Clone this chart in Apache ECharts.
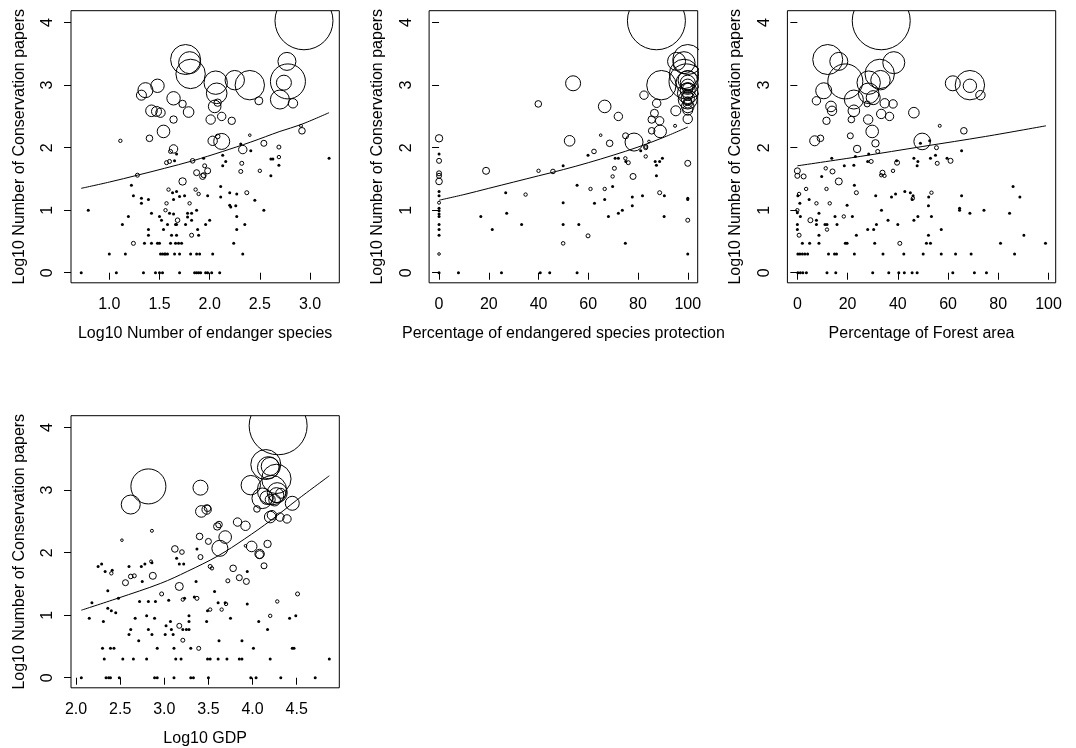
<!DOCTYPE html>
<html>
<head>
<meta charset="utf-8">
<script src="https://cdn.jsdelivr.net/npm/echarts@6/dist/echarts.min.js"></script>
<style>
html,body{margin:0;padding:0;background:#fff;}
#chart{width:1076px;height:748px;}
</style>
</head>
<body>
<div id="chart"></div>
<script>
// ---- DATA: [x, log10 papers, bubble weight] ----
const speciesPts = [
[2.94,4.03,29],[1.76,3.41,15],[1.80,3.36,11],[1.81,3.18,14.7],[2.77,3.38,9],[2.78,3.06,17.5],[2.74,3.04,7.5],[2.70,2.77,9.5],[2.83,2.71,4.7],[2.06,3.04,11.7],[2.07,2.87,10.3],[2.25,3.08,9.7],[2.40,3.00,14.7],[2.49,2.75,4],[2.05,2.66,6.3],[2.08,2.72,3.7],[1.36,2.92,7.5],[1.32,2.84,5],[1.48,2.99,6.7],[1.64,2.79,6.7],[1.73,2.70,3.7],[1.42,2.59,5.8],[1.47,2.58,5],[1.51,2.56,4.7],[1.79,2.57,5.3],[1.64,2.45,3.7],[2.01,2.45,4.7],[2.12,2.50,4.2],[2.22,2.43,3.7],[1.54,2.26,6.3],[1.40,2.15,3.3],[1.11,2.11,1.7],[2.12,2.10,8],[2.03,2.11,4.7],[2.08,2.18,2.3],[1.64,1.98,4.2],[2.40,2.20,1.3],[2.54,2.07,3],[2.69,2.01,2],[2.92,2.27,3.3],[2.91,2.35,1.5],[2.33,1.97,4.2],[2.31,2.06,1],
[1.61,1.94,2],[1.67,1.90,1],[2.41,1.95,1],[2.13,1.88,1],[1.57,1.76,2],[1.60,1.78,2],[1.65,1.79,1],[1.83,1.79,2.3],[1.94,1.83,1],[2.16,1.78,1],[2.13,1.71,1],[1.95,1.71,2],[1.98,1.63,3],[1.87,1.60,3],[1.93,1.54,3],[1.94,1.56,2.5],[2.32,1.75,2],[2.31,1.62,2],[2.50,1.63,1.7],[2.61,1.82,1],[2.63,1.82,1],[2.69,1.85,1.7],[2.69,1.72,1],[2.61,1.55,1],[3.19,1.83,1],[1.73,1.46,3.7],[1.28,1.56,2],[1.22,1.40,1],[1.24,1.23,1],[1.32,1.19,1],[1.32,1.11,1],[1.39,1.17,1],[1.59,1.33,1.7],[1.63,1.28,1],[1.67,1.30,1],[1.70,1.22,1],[1.75,1.23,1],[1.64,1.17,1],[1.57,1.11,1.7],[1.86,1.33,1.7],[1.89,1.26,1.7],[1.80,1.11,1.7],[1.98,1.23,1],[2.11,1.38,1],[2.11,1.21,1],[2.20,1.28,1],[2.27,1.26,1],[2.37,1.28,2],[2.45,1.16,1],[2.20,1.08,1],[2.21,1.05,1],[2.26,1.07,1],[2.54,1.00,1],[0.79,1.00,1],[1.19,0.90,1],[1.13,0.77,1],[1.42,0.95,1],[1.50,0.90,1],[1.52,0.84,1],[1.56,1.00,1.7],[1.60,0.95,1],[1.64,0.94,1],[1.68,0.84,2.3],[1.58,0.77,1],[1.66,0.77,1],[1.67,0.77,1],[1.78,0.95,1],[1.82,0.95,1],[1.87,1.00,1],[1.78,0.89,1],[1.82,0.84,1],[1.76,0.77,1],[2.00,0.84,1],[1.96,0.77,1],[2.27,0.90,1],[2.35,0.77,1],[2.27,0.69,1],[1.39,0.69,1],[1.54,0.69,1],[1.39,0.60,1],[1.62,0.60,1],[1.67,0.60,1],[1.82,0.60,2],[1.88,0.69,1],[1.89,0.60,1],[1.24,0.47,2],[1.35,0.47,1],[1.42,0.47,1],[1.48,0.47,1],[1.50,0.47,1],[1.61,0.47,1],[1.66,0.47,1],[1.69,0.47,1],[1.72,0.47,1],[2.24,0.47,1],
[1.00,0.30,1],[1.16,0.30,1],[1.51,0.30,1],[1.53,0.30,1],[1.55,0.30,1],[1.56,0.30,1],[1.58,0.30,1],[1.65,0.30,1],[1.70,0.30,1],[1.81,0.30,1],[1.87,0.30,1],[1.90,0.30,1],[2.03,0.30,1],[2.33,0.30,1],
[0.72,0,1],[1.07,0,1],[1.34,0,1],[1.46,0,1],[1.50,0,1],[1.53,0,1],[1.70,0,1],[1.85,0,1],[1.87,0,1],[1.89,0,1],[1.91,0,1],[1.96,0,1],[1.98,0,1],[2.02,0,1],[2.10,0,1]
];
const protectionPts = [
[87.4,4.03,29],[100,3.41,15],[98.5,3.36,11],[98.5,3.18,14.7],[95.5,3.38,9],[99.5,3.06,17.5],[100,3.04,7.5],[100,2.77,9.5],[100,2.71,4.7],[100,3.04,11.7],[100,2.87,10.3],[100,3.08,9.7],[89.4,3.00,14.7],[100,2.75,4],[100,2.66,6.3],[100,2.92,7.5],[100,2.84,5],[100,2.99,6.7],[100,2.79,6.7],[100,2.95,5],[100,2.60,5],[95.2,2.59,5],[100,2.46,4.7],[82.4,2.84,4.2],[87.5,2.71,4.2],[86.6,2.55,4],[85.5,2.45,3.7],[88.7,2.43,4.2],[88.9,2.26,6.3],[85.5,2.27,3.3],[94.9,2.35,1.5],[53.9,3.03,7.5],[39.9,2.70,3.3],[66.6,2.66,6.3],[72.1,2.50,4.2],[0,2.15,3.7],[52.5,2.11,5.3],[78.4,2.09,9],[75.0,2.19,3],[68.6,2.07,3.3],[65,2.20,1.3],[83.1,2.02,2],[84.4,2.10,1.3],
[0,1.90,1],[0,1.79,2.5],[0,1.59,2.5],[0,1.55,2.5],[0,1.46,3.3],[0,1.30,1],[0,1.23,1],[0,1.12,1.5],[0,1.03,1],[0,0.99,1],[0,0.94,1],[0,0.90,1],[0,0.77,1],[0,0.69,1],[0,0.60,1],[0,0.30,1.3],[0,0,1],[18.9,1.63,3.5],[7.8,0,1],[16.8,0.90,1],[21.4,0.69,1],[26.8,1.28,1],[27.2,0.95,1],[25.1,0,1],[33.2,0.77,1],[34.8,1.25,1.7],[40,1.63,1.7],[40.7,0,1],[44.5,0,1],[45.8,1.62,2.3],[49.9,1.71,1],[49.9,1.12,1],[49.9,0.77,1.2],[49.9,0.47,1.8],[55.5,0,1],[55.5,1.40,1],[56.2,0.77,1],[59.9,0.59,2],[59.9,1.88,1],[62.3,1.94,2.3],[60.9,1.34,1.7],[62.5,1.11,1],[66.6,1.34,1.7],[66.6,1.17,1],[68.1,0.90,1],[69.8,1.54,1.7],[69.8,1.38,1],[70.5,1.67,2],[70.8,1.83,1],[72.1,1.83,1],[72.1,0.95,1],[73.7,1.00,1],[74.9,1.83,1.7],[76.1,1.76,2],[75.1,1.78,1],[74.9,0.47,1],[78.0,1.54,3],[77.7,1.21,1],[77.7,1.07,1],[81.8,1.23,1],[81.1,1.95,1],[83.1,2.00,2],[83.1,1.86,1.7],[86.9,1.78,1],[88.7,1.78,1],[89.8,1.83,1],[87.4,1.72,1],[87.4,1.55,1],[88.7,1.28,2],[90.6,1.23,1],[90.5,0.90,1],[100,1.75,3],[100,1.19,1],[100,1.17,1],[100,0.84,2],[100,0.30,1]
];
const forestPts = [
[33.4,4.03,29],[12.1,3.41,15],[16.5,3.38,9],[19.1,3.06,17.5],[32.8,3.18,14.7],[38.4,3.36,11],[33.1,3.08,9.7],[28.4,3.04,11.7],[28.4,2.87,10.3],[68.7,3.00,14.7],[68.7,2.99,6.7],[61.9,3.03,7.5],[72.9,2.84,4.7],[10.5,2.91,8],[22.5,2.77,9.5],[30.2,2.80,7],[7.6,2.75,4.2],[13.4,2.66,5.3],[13.8,2.59,4.7],[22.5,2.59,5.8],[27.8,2.70,3],[34.8,2.71,4.7],[38.1,2.70,4.2],[46.4,2.56,5.3],[33.4,2.54,4.7],[36.7,2.50,4.2],[11.6,2.43,3.7],[21.5,2.45,3.3],[28.2,2.45,4.7],[29.8,2.26,6.3],[21.1,2.19,3],[6.9,2.11,5],[9.2,2.15,3.3],[31.1,2.07,3.7],[49.7,2.10,8.3],[56.7,2.35,1.5],[66.3,2.27,3.3],[23.8,1.98,3.7],[55.4,2.00,2],[52.7,2.11,1],[49,2.07,1],
[65.4,1.95,1],[13.7,1.83,1],[23.1,1.86,1],[28.4,1.90,1],[32.0,1.94,2],[29.4,1.78,2],[28.0,1.78,1],[39.7,1.76,2.5],[39.5,1.79,1],[46.4,1.83,1],[47.7,1.71,1],[48.0,1.78,1],[53.0,1.83,1],[55.0,1.88,1],[55.7,1.75,2],[59.6,1.83,1],[61.0,1.79,2.5],[0,1.63,3],[0,1.55,2.5],[2.5,1.54,2.5],[9.7,1.54,1],[11.3,1.67,1.7],[14.0,1.62,2.5],[18.7,1.71,1],[22.5,1.72,1],[16.5,1.46,3.5],[22.7,1.40,1],[23.5,1.28,2],[33.9,1.60,2.5],[33.4,1.56,1.7],[34.7,1.55,1.7],[38.1,1.63,1.7],[3.5,1.34,1.7],[11.6,1.34,1.7],[0.7,1.26,1.7],[0.2,1.23,1],[1.0,1.11,1],[4.7,1.17,1],[7.6,1.11,1.7],[12.9,1.11,1.7],[19.8,1.08,1],[31.2,1.23,1],[37.5,1.21,1],[39.1,1.26,1],[42.8,1.30,1],[45.0,1.28,1],[46.1,1.23,1],[45.7,1.17,1],[46,1.19,1.7],[53.4,1.28,1.7],[52.3,1.21,1],[52.2,1.07,1],[65.4,1.23,1],[64.6,1.03,1],[64.6,1.00,1],[68.7,0.95,1],[74.3,1.00,1],[84.5,0.95,1],[85.9,1.38,1],[88.6,1.21,1],[0,1.00,1.7],[0,0.96,1],[1.2,0.90,1],[5.2,0.84,2.5],[7.6,0.84,1],[8.6,0.95,1],[0,0.77,1],[0,0.69,1],[7.6,0.77,1],[11.0,0.77,1],[11.8,0.77,1],[11.8,0.69,1.7],[15.0,0.90,1],[15.8,0.77,1],[18.5,0.90,1.7],[21.9,0.90,1],[33.5,1.00,1],[28.0,0.69,1],[30.4,0.69,1],[31.5,0.77,1],[36.1,0.84,1],[40.0,0.77,1],[46.4,0.84,1],[48.0,0.90,1],[53.4,0.90,1],[57.3,0.69,1],[0.7,0.60,2],[8.6,0.60,1],[23.5,0.60,1],[52.2,0.60,1],[2.0,0.47,1],[4.9,0.47,1],[8.6,0.47,1],[19.1,0.47,1],[19.8,0.47,1],[30.8,0.47,1],[40.8,0.47,2],[51.4,0.47,1],[53.0,0.47,1],[80.9,0.47,1],[98.8,0.47,1],[90.2,0.60,1],
[0.2,0.30,1],[1,0.30,1],[2,0.30,1],[3,0.30,1],[4.1,0.30,1],[12.4,0.30,1],[14.8,0.30,1],[15.6,0.30,1],[22.7,0.30,1],[34.1,0.30,1],[42.4,0.30,1],[50.1,0.30,1],[57.3,0.30,1],[63.0,0.30,1],[69.2,0.30,1],[86.5,0.30,1],
[0.2,0,1],[1.2,0,1],[2.2,0,1],[3.6,0,1],[11.8,0,1],[15.3,0,1],[30.0,0,1],[36.4,0,1],[40.4,0,1],[42.6,0,1],[45.7,0,1],[47.7,0,1],[61.9,0,1],[70.5,0,1],[75.3,0,1]
];
const gdpPts = [
[4.29,4.03,29],[4.15,3.41,15],[4.18,3.36,11],[4.27,3.18,14.7],[4.20,3.38,9],[2.82,3.06,17.5],[3.41,3.04,7.5],[2.62,2.77,9.5],[3.98,3.08,9.7],[4.22,3.00,14.7],[4.28,2.96,10],[4.11,2.87,10.3],[4.45,2.79,7],[4.39,2.54,4.2],[4.20,2.57,5.8],[4.31,2.57,4.2],[4.05,2.70,3.3],[3.42,2.66,5.8],[3.48,2.69,4.7],[3.49,2.71,3.3],[3.60,2.42,3.7],[3.62,2.45,3.3],[3.83,2.49,4.2],[3.92,2.43,4.7],[3.69,2.25,6.3],[3.63,2.07,8],[3.40,2.26,3.3],[3.50,2.18,3],[3.99,2.10,5.3],[4.17,2.14,3.7],[4.08,1.98,4.7],[4.08,1.97,4],[3.12,2.06,3.3],[3.20,2.01,2.3],[2.86,2.35,1.5],[2.52,2.20,1.3],[3.37,2.06,1],[3.41,1.93,2.5],[3.92,2.11,1.3],[4.25,2.84,5.8],[4.32,2.95,5],[4.27,2.92,7.5],[4.20,2.85,5],[4.22,2.60,4.7],[4.16,2.88,6.7],
[4.13,1.79,3],[2.25,1.78,1],[2.29,1.82,1],[2.33,1.70,1],[2.40,1.67,1.7],[2.41,1.72,1],[2.36,1.39,1],[2.18,1.20,1],[2.15,0.95,1],[2.36,1.11,1],[2.40,1.07,1],[2.45,1.04,1],[2.31,0.90,1],[2.48,1.27,1],[2.56,1.52,3],[2.62,1.62,2.3],[2.66,1.63,2],[2.60,1.78,1],[2.74,1.78,1],[2.78,1.82,1],[2.85,1.86,1.5],[2.86,1.84,1],[2.75,1.54,1],[2.87,1.63,3.5],[2.72,1.22,1],[2.82,1.22,1],[2.90,1.22,1],[2.97,1.34,2],[3.05,1.24,1],[2.67,0.95,1],[2.80,0.99,1],[2.89,0.95,1],[2.62,0.77,1],[2.60,0.69,1],[2.82,0.77,1],[2.86,0.69,1],[2.71,0.59,1],[3.02,0.83,1],[3.07,0.90,1],[3.08,0.77,1],[3.01,0.69,1],[3.10,0.69,1],[3.17,0.83,2.5],[3.21,0.77,1],[3.25,0.77,1],[3.28,0.77,1],[3.28,0.99,1],[3.28,0.90,1],[3.21,0.60,2],[3.14,1.91,1],[3.17,1.82,1],[3.22,1.82,1],[3.17,1.46,4],[3.21,1.25,1.7],[3.23,1.27,1],[3.36,1.54,1],[3.34,1.29,1],[3.37,1.27,2],[3.48,0.90,1],[3.49,1.07,1],[3.52,1.09,1.7],[3.52,1.78,2],[3.54,1.75,1.7],[3.57,1.38,1],[3.61,1.20,1],[3.69,1.20,1],[3.70,1.18,1.7],[3.65,1.09,1.7],[3.62,0.59,1],[3.72,1.55,2],[3.75,0.95,1],[3.78,1.75,3.3],[3.85,1.60,3],[3.93,1.54,3],[3.94,1.70,1],[3.94,1.18,1],[3.88,0.59,1],[4.07,0.90,1],[4.17,0.77,1],[4.20,0.99,1.7],[4.28,1.22,1.7],[4.42,0.95,1],[4.49,0.99,1],[4.51,1.34,2],
[2.30,0.47,1],[2.39,0.47,1],[2.43,0.47,1],[2.92,0.47,1],[3.11,0.47,1],[3.30,0.47,1],[3.39,0.47,2],[4.01,0.47,1],[4.45,0.47,1],[4.47,0.47,1],
[2.32,0.30,1],[2.53,0.30,1],[2.65,0.30,1],[2.80,0.30,1],[3.13,0.30,1],[3.19,0.30,1],[3.49,0.30,1],[3.52,0.30,1],[3.61,0.30,1],[3.71,0.30,1],[3.85,0.30,1],[3.88,0.30,1],[4.20,0.30,1],[4.87,0.30,1],
[2.06,0,1],[2.34,0,1],[2.37,0,1],[2.39,0,1],[2.49,0,1],[2.89,0,1],[2.92,0,1],[3.11,0,1],[3.30,0,1],[3.33,0,1],[3.50,0,1],[3.98,0,1],[4.04,0,1],[4.32,0,1],[4.71,0,1]
];

// fitted curves
const speciesFit = [[0.72,1.35],[1.0,1.45],[1.28,1.56],[1.55,1.67],[1.83,1.79],[2.13,1.94],[2.41,2.09],[2.7,2.26],[2.91,2.37],[3.19,2.56]];
const protectionFit = [[0,1.16],[10,1.25],[20,1.35],[30,1.45],[40,1.55],[50,1.65],[60,1.76],[70,1.88],[80,2.01],[90,2.16],[100,2.33]];
const forestFit = [[0,1.71],[25,1.86],[50,2.02],[75,2.18],[99,2.35]];
const gdpFit = [[2.06,1.08],[2.47,1.27],[2.96,1.51],[3.26,1.70],[3.61,1.95],[3.91,2.22],[4.21,2.52],[4.5,2.84],[4.87,3.23]];

// axis tick labels
const speciesTicks = [1.0,1.5,2.0,2.5,3.0];
const percentTicks = [0,20,40,60,80,100];
const gdpTicks = [2.0,2.5,3.0,3.5,4.0,4.5];
const paperTicks = [0,1,2,3,4];

const xTitles = ['Log10 Number of endanger species','Percentage of endangered species protection','Percentage of Forest area','Log10 GDP'];
const yTitle = 'Log10 Number of Conservation papers';

// ---- LAYOUT ----
const FONT = "'Liberation Sans', Arial, Helvetica, sans-serif";
const grids = [
  {left:71, top:10.7, width:268.3, height:272.1},
  {left:429.1, top:10.7, width:268.6, height:272.1},
  {left:787.4, top:10.7, width:268.3, height:272.1},
  {left:71, top:415.7, width:268.3, height:272.1}
];
const xRanges = [[0.618,3.292],[-4,104],[-3.96,102.87],[1.943,4.983]];
const xTickSets = [speciesTicks, percentTicks, percentTicks, gdpTicks];
const xDec = [1,0,0,1];
const pts = [speciesPts, protectionPts, forestPts, gdpPts];
const fits = [speciesFit, protectionFit, forestFit, gdpFit];

const option = {
  animation:false,
  backgroundColor:'#fff',
  textStyle:{fontFamily:FONT},
  grid: grids.map(g => Object.assign({show:true, borderColor:'#000', borderWidth:1, backgroundColor:'transparent', containLabel:false}, g)),
  xAxis: grids.map((g,i) => ({
    type:'value', gridIndex:i, min:xRanges[i][0], max:xRanges[i][1],
    name:xTitles[i], nameLocation:'middle', nameGap:43,
    nameTextStyle:{fontSize:16, color:'#000', fontFamily:FONT},
    axisLine:{show:false},
    axisTick:{show:true, length:7, inside:false, customValues:xTickSets[i], lineStyle:{color:'#000', width:1}},
    axisLabel:{show:true, customValues:xTickSets[i], margin:14, fontSize:16, color:'#000', fontFamily:FONT,
      formatter: v => Number(v).toFixed(xDec[i])},
    splitLine:{show:false}
  })),
  yAxis: grids.map((g,i) => ({
    type:'value', gridIndex:i, min:-0.161, max:4.191,
    name:yTitle, nameLocation:'middle', nameGap:43.7,
    nameTextStyle:{fontSize:16, color:'#000', fontFamily:FONT},
    axisLine:{show:false},
    axisTick:{show:true, length:7, inside:false, customValues:paperTicks, lineStyle:{color:'#000', width:1}},
    axisLabel:{show:true, customValues:paperTicks, rotate:90, margin:15, fontSize:16, color:'#000', fontFamily:FONT,
      formatter: v => String(Math.round(v))},
    splitLine:{show:false}
  })),
  series: []
};

pts.forEach((p,i) => {
  option.series.push({
    type:'custom', xAxisIndex:i, yAxisIndex:i, clip:true, silent:true,
    data:p, encode:{x:0, y:1},
    renderItem:(params, api) => {
      const c = api.coord([api.value(0), api.value(1)]);
      const w = api.value(2);
      if (w <= 1.25) {
        return {type:'circle', shape:{cx:c[0], cy:c[1], r:1.5}, style:{fill:'#000', stroke:null}};
      }
      return {type:'circle', shape:{cx:c[0], cy:c[1], r:w}, style:{fill:null, stroke:'#000', lineWidth:1}};
    }
  });
  option.series.push({
    type:'line', xAxisIndex:i, yAxisIndex:i, data:fits[i], smooth:0.35,
    showSymbol:false, symbol:'none', silent:true,
    lineStyle:{color:'#000', width:1}
  });
});

const chart = echarts.init(document.getElementById('chart'), null, {renderer:'canvas'});
chart.setOption(option);
</script>
</body>
</html>
